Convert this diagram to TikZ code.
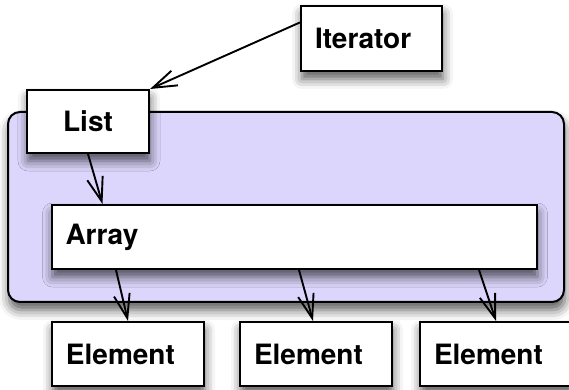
\documentclass[tikz,border=0pt]{standalone}
\usepackage{fontspec}
\setmainfont{TeX Gyre Heros}
\usetikzlibrary{arrows.meta,calc,shadows.blur}

\definecolor{lavender}{RGB}{220,214,252}

\tikzset{
  shad/.style={blur shadow={shadow xshift=0.5pt,shadow yshift=-4pt,shadow blur radius=5pt,shadow opacity=65}},
  box/.style={draw=black,line width=1pt,fill=white,shad,font=\bfseries\fontsize{14}{16}\selectfont,
    minimum height=32pt,inner ysep=0pt},
  lbox/.style={box,align=left,inner xsep=7pt},
  frame/.style={draw=black,line width=1pt,fill=lavender,rounded corners=6pt,shad},
  ptr/.style={line width=0.95pt,-{Straight Barb[length=12pt,width=8pt,line width=0.95pt]}}
}

\begin{document}
\begin{tikzpicture}[x=0.5pt,y=-0.5pt]
      \useasboundingbox (0,0) rectangle (569,390);

      \node[frame,minimum width=278pt,minimum height=95pt] (fr) at (286,207){};

      \node[lbox,text width=56.5pt,minimum height=32.5pt] (iter) at (371.5,38.5){Iterator};
      \node[box,minimum width=61pt,minimum height=31.5pt] (lst) at (88,121.5){List};

      \node[lbox,text width=228.5pt] (arr) at (294,237){Array};

      \node[lbox,text width=62pt] (e1) at (128,354){Element};
      \node[lbox,text width=62pt] (e2) at (316,354){Element};
      \node[lbox,text width=62pt] (e3) at (496,354){Element};

      \draw[ptr] ($(iter.north west)!0.26!(iter.south west)$) -- (lst.north east);
      \draw[ptr] (lst.south) -- ($(arr.north west)+(52,0)$);
      \draw[ptr] ($(arr.south -| e1.north)+(-12,0)$) -- (e1.north);
      \draw[ptr] ($(arr.south -| e2.north)+(-17,0)$) -- ([xshift=-1.5pt]e2.north);
      \draw[ptr] ($(arr.south -| e3.north)+(-17,0)$) -- (e3.north);
\end{tikzpicture}
\end{document}
